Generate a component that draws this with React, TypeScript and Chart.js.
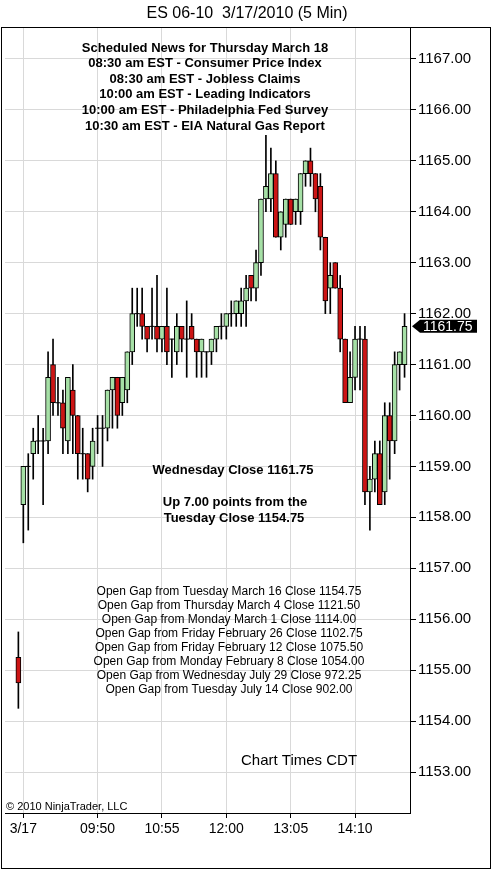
import React, { useEffect, useRef } from 'react';
import { Chart, registerables } from 'chart.js';

Chart.register(...registerables);

const FONT = "'Liberation Sans', Arial, sans-serif";
const TITLE = 'ES 06-10  3/17/2010 (5 Min)';

// OHLC per 5-minute bar (bar 0 = prior session close bar)
const opens = [
  1155.25, 1158.25, 1159.0, 1159.25, 1159.5, 1159.5, 1159.5, 1161.0, 1160.25, 1160.25,
  1159.5, 1160.5, 1160.0, 1159.25, 1159.25, 1159.0, 1159.75, 1159.75, 1159.75, 1160.5,
  1160.75, 1160.25, 1160.5, 1161.25, 1162.0, 1162.0, 1161.75, 1161.75, 1161.75, 1161.5,
  1161.75, 1161.5, 1161.25, 1161.75, 1161.5, 1161.75, 1161.5, 1161.25, 1161.25, 1161.25,
  1161.5, 1161.75, 1161.75, 1162.0, 1162.0, 1162.0, 1162.25, 1162.75, 1162.5, 1163.0,
  1164.25, 1164.25, 1164.75, 1163.5, 1163.75, 1164.25, 1164.0, 1164.0, 1164.75, 1165.0,
  1164.75, 1164.5, 1163.5, 1162.5, 1163.0, 1162.5, 1161.5, 1160.25, 1160.75, 1161.5,
  1161.5, 1158.5, 1158.75, 1159.25, 1158.5, 1160.0, 1159.5, 1161.0, 1161.0,
];
const highs = [
  1155.75, 1159.0, 1159.25, 1159.75, 1160.0, 1159.75, 1161.25, 1161.5, 1160.75, 1160.5,
  1160.75, 1161.0, 1160.0, 1159.75, 1159.25, 1159.75, 1160.0, 1160.0, 1160.5, 1160.75,
  1160.75, 1160.75, 1161.25, 1162.5, 1162.5, 1162.5, 1161.75, 1162.5, 1162.75, 1161.75,
  1162.5, 1161.5, 1162.0, 1161.75, 1162.25, 1162.0, 1161.5, 1161.5, 1161.25, 1161.5,
  1161.75, 1162.0, 1162.0, 1162.25, 1162.25, 1162.5, 1162.75, 1162.75, 1163.25, 1164.25,
  1165.5, 1165.25, 1165.0, 1164.0, 1164.25, 1164.25, 1164.25, 1164.75, 1165.0, 1165.25,
  1164.75, 1164.75, 1163.5, 1163.0, 1163.0, 1162.75, 1161.5, 1161.25, 1161.75, 1161.75,
  1161.75, 1159.0, 1159.5, 1159.5, 1160.25, 1160.25, 1161.25, 1161.25, 1162.0,
];
const lows = [
  1154.25, 1157.5, 1157.75, 1158.75, 1159.25, 1158.25, 1159.25, 1160.0, 1160.0, 1159.25,
  1159.25, 1159.25, 1158.75, 1158.75, 1158.5, 1158.75, 1159.25, 1159.0, 1159.5, 1159.75,
  1159.75, 1160.0, 1160.25, 1161.0, 1161.75, 1161.5, 1161.25, 1161.5, 1161.25, 1161.25,
  1161.0, 1160.75, 1161.0, 1161.25, 1160.75, 1161.5, 1160.75, 1160.75, 1160.75, 1161.0,
  1161.25, 1161.5, 1161.5, 1161.75, 1161.75, 1161.75, 1161.75, 1162.25, 1162.25, 1162.75,
  1164.0, 1164.0, 1163.5, 1163.25, 1163.5, 1163.75, 1163.75, 1163.75, 1164.5, 1164.5,
  1164.0, 1163.25, 1162.0, 1162.0, 1162.5, 1161.25, 1160.25, 1160.25, 1160.5, 1160.5,
  1158.25, 1157.75, 1158.5, 1158.25, 1158.25, 1158.75, 1159.25, 1160.5, 1160.75,
];
const closes = [
  1154.75, 1159.0, 1159.0, 1159.5, 1159.5, 1159.5, 1160.75, 1160.25, 1160.25, 1159.75,
  1160.75, 1160.0, 1159.25, 1159.25, 1158.75, 1159.5, 1159.75, 1159.75, 1160.5, 1160.75,
  1160.0, 1160.75, 1161.25, 1162.0, 1162.0, 1161.75, 1161.5, 1161.75, 1161.5, 1161.75,
  1161.25, 1161.5, 1161.75, 1161.5, 1161.5, 1161.5, 1161.25, 1161.5, 1161.25, 1161.5,
  1161.75, 1161.75, 1162.0, 1162.0, 1162.25, 1162.25, 1162.5, 1162.5, 1163.0, 1164.25,
  1164.5, 1164.75, 1163.5, 1164.0, 1164.25, 1163.75, 1164.25, 1164.75, 1165.0, 1164.75,
  1164.25, 1163.5, 1162.25, 1162.75, 1162.5, 1161.5, 1160.25, 1160.75, 1161.5, 1161.5,
  1158.5, 1158.75, 1159.25, 1158.25, 1160.0, 1159.5, 1161.0, 1161.25, 1161.75,
];

// Axis ticks
const xTickBars = [1, 16, 29, 42, 55, 68];
const xTickLabels = ['3/17', '09:50', '10:55', '12:00', '13:05', '14:10'];
const yTicks = [1153, 1154, 1155, 1156, 1157, 1158, 1159, 1160, 1161, 1162, 1163, 1164, 1165, 1166, 1167];

// Annotation text
const newsLines = [
  'Scheduled News for Thursday March 18',
  '08:30 am EST - Consumer Price Index',
  '08:30 am EST - Jobless Claims',
  '10:00 am EST - Leading Indicators',
  '10:00 am EST - Philadelphia Fed Survey',
  '10:30 am EST - EIA Natural Gas Report',
];
const closeNote = ['Wednesday Close 1161.75', 'Up 7.00 points from the', 'Tuesday Close 1154.75'];
const gapLines = [
  'Open Gap from Tuesday March 16 Close 1154.75',
  'Open Gap from Thursday March 4 Close 1121.50',
  'Open Gap from Monday March 1 Close 1114.00',
  'Open Gap from Friday February 26 Close 1102.75',
  'Open Gap from Friday February 12 Close 1075.50',
  'Open Gap from Monday February 8 Close 1054.00',
  'Open Gap from Wednesday July 29 Close 972.25',
  'Open Gap from Tuesday July 14 Close 902.00',
];
const timesNote = 'Chart Times CDT';
const copyright = '\u00A9 2010 NinjaTrader, LLC';

const UP_COLOR = '#a6e0a6';
const DOWN_COLOR = '#cc1414';
const GRID = '#d9d9d9';

const overlayPlugin = {
  id: 'overlay',
  afterDraw(chart: any) {
    const ctx = chart.ctx as CanvasRenderingContext2D;
    const yScale = chart.scales.y;
    ctx.save();
    // outer frame
    ctx.strokeStyle = '#000';
    ctx.lineWidth = 1;
    ctx.strokeRect(1.5, 27.5, 489, 841);

    // news block
    ctx.fillStyle = '#000';
    ctx.textAlign = 'center';
    ctx.textBaseline = 'middle';
    ctx.font = `bold 13px ${FONT}`;
    newsLines.forEach((t, i) => ctx.fillText(t, 205, 48 + i * 15.6));
    ctx.fillText(closeNote[0], 233, 470);
    ctx.fillText(closeNote[1], 235, 502);
    ctx.fillText(closeNote[2], 234, 518);

    ctx.font = `12px ${FONT}`;
    gapLines.forEach((t, i) => ctx.fillText(t, 229, 592 + i * 13.9));

    ctx.textAlign = 'left';
    ctx.font = `15px ${FONT}`;
    ctx.fillText(timesNote, 241, 761);
    ctx.font = `11px ${FONT}`;
    ctx.fillText(copyright, 6, 807);

    // last price marker
    const last = closes[closes.length - 1];
    const y = yScale.getPixelForValue(last);
    ctx.fillStyle = '#000';
    ctx.beginPath();
    ctx.moveTo(412, y);
    ctx.lineTo(420, y - 6.5);
    ctx.lineTo(477, y - 6.5);
    ctx.lineTo(477, y + 6.5);
    ctx.lineTo(420, y + 6.5);
    ctx.closePath();
    ctx.fill();
    ctx.fillStyle = '#fff';
    ctx.font = `14px ${FONT}`;
    ctx.textBaseline = 'middle';
    ctx.fillText(last.toFixed(2), 423, y + 0.5);
    ctx.restore();
  },
};

export default function App() {
  const ref = useRef<HTMLCanvasElement>(null);
  useEffect(() => {
    document.body.style.margin = '0';
    const canvas = ref.current;
    if (!canvas) return;
    const idx = opens.map((_, i) => i);
    const wickData = idx.map((i) => ({ x: i, y: [lows[i], highs[i]] }));
    const upData = idx.filter((i) => closes[i] > opens[i]).map((i) => ({ x: i, y: [opens[i], closes[i]] }));
    const downData = idx.filter((i) => closes[i] < opens[i]).map((i) => ({ x: i, y: [closes[i], opens[i]] }));
    const dojiData = idx.filter((i) => closes[i] === opens[i]).map((i) => ({ x: i, y: closes[i] }));

    const chart = new Chart(canvas, {
      type: 'bar',
      data: {
        datasets: [
          {
            type: 'bar', data: upData as any, backgroundColor: UP_COLOR, borderColor: '#000',
            borderWidth: 1, borderSkipped: false, barThickness: 5, grouped: false, order: 1,
          },
          {
            type: 'bar', data: downData as any, backgroundColor: DOWN_COLOR, borderColor: '#000',
            borderWidth: 1, borderSkipped: false, barThickness: 5, grouped: false, order: 1,
          },
          {
            type: 'scatter', data: dojiData as any, pointStyle: 'line', pointRadius: 2.5,
            borderColor: '#000', borderWidth: 1, order: 0,
          },
          {
            type: 'bar', data: wickData as any, backgroundColor: '#000', borderWidth: 0,
            barThickness: 1, grouped: false, order: 2,
          },
        ] as any,
      },
      options: {
        responsive: false,
        animation: false,
        devicePixelRatio: 1,
        events: [],
        layout: { padding: { left: 1, right: 0, top: 0, bottom: 2 } },
        plugins: {
          legend: { display: false },
          tooltip: { enabled: false },
          title: {
            display: true, text: TITLE, color: '#000',
            font: { family: FONT, size: 16, weight: 'normal' },
            padding: { top: 4, bottom: 3.8 },
          },
        },
        scales: {
          x: {
            type: 'linear', min: -2.7, max: 79.1, offset: false,
            afterBuildTicks: (s: any) => { s.ticks = xTickBars.map((v) => ({ value: v })); },
            afterFit: (s: any) => { s.height = 56; },
            ticks: {
              autoSkip: false, maxRotation: 0, padding: 3, color: '#000',
              font: { family: FONT, size: 14 },
              callback: (v: any) => { const k = xTickBars.indexOf(Number(v)); return k >= 0 ? xTickLabels[k] : ''; },
            },
            grid: { color: GRID, tickColor: '#000', tickLength: 5, offset: false },
            border: { color: '#000', width: 1 },
          },
          y: {
            type: 'linear', position: 'right', min: 1152.195, max: 1167.628,
            afterBuildTicks: (s: any) => { s.ticks = yTicks.map((v) => ({ value: v })); },
            afterFit: (s: any) => { s.width = 83; },
            ticks: {
              padding: 2, color: '#000', font: { family: FONT, size: 15 },
              callback: (v: any) => Number(v).toFixed(2),
            },
            grid: { color: GRID, tickColor: '#000', tickLength: 6 },
            border: { color: '#000', width: 1 },
          },
        },
      } as any,
      plugins: [overlayPlugin],
    });
    return () => chart.destroy();
  }, []);
  return <canvas ref={ref} width={493} height={871} style={{ display: 'block' }} />;
}
